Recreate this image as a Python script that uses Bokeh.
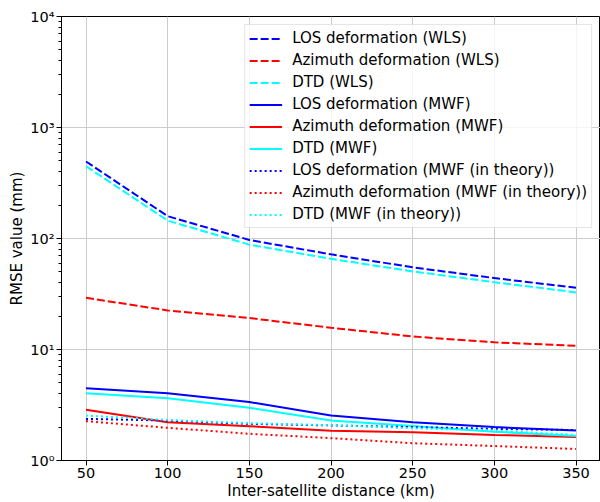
from bokeh.plotting import figure
from bokeh.models import Range1d, LogTicker, FixedTicker
from bokeh.embed import file_html
from bokeh.resources import INLINE

# Inter-satellite distance (km)
distance = [50, 100, 150, 200, 250, 300, 350]

# RMSE (mm), weighted least squares
los_wls = [494, 159, 97, 72, 55, 44, 36]
az_wls = [29.2, 22.5, 19.2, 15.7, 13.1, 11.6, 10.8]
dtd_wls = [448, 145, 88, 65.6, 50.5, 40.4, 32.7]

# RMSE (mm), MWF estimate
los_mwf = [4.48, 4.04, 3.36, 2.54, 2.21, 2.00, 1.86]
az_mwf = [2.86, 2.21, 2.04, 1.85, 1.80, 1.70, 1.63]
dtd_mwf = [4.04, 3.64, 2.99, 2.29, 2.05, 1.82, 1.66]

# RMSE (mm), MWF theoretical
los_theory = [2.37, 2.29, 2.14, 2.07, 2.00, 1.93, 1.88]
az_theory = [2.26, 1.97, 1.74, 1.59, 1.43, 1.35, 1.27]
dtd_theory = [2.54, 2.32, 2.17, 2.08, 1.95, 1.86, 1.70]

x_ticks = [50, 100, 150, 200, 250, 300, 350]
y_tick_labels = {1: "10⁰", 10: "10¹", 100: "10²", 1000: "10³", 10000: "10⁴"}

FONT = "DejaVu Sans"

p = figure(
    width=600, height=502,
    y_axis_type="log",
    x_range=Range1d(35, 365), y_range=Range1d(1, 10000),
    output_backend="svg", toolbar_location=None,
    min_border_left=61, min_border_right=0, min_border_top=16, min_border_bottom=41,
    background_fill_color="white", border_fill_color="white",
)

p.outline_line_color = "black"
p.outline_line_width = 1

# axes
p.xaxis.ticker = FixedTicker(ticks=x_ticks)
p.yaxis.ticker = LogTicker(num_minor_ticks=10)
p.yaxis.major_label_overrides = y_tick_labels
for ax in (p.xaxis[0], p.yaxis[0]):
    ax.major_label_text_font = FONT
    ax.major_label_text_font_size = "14.5px"
    ax.major_label_text_color = "black"
    ax.axis_label_text_font = FONT
    ax.axis_label_text_font_size = "15px"
    ax.axis_label_text_font_style = "normal"
    ax.axis_label_text_color = "black"
    ax.major_tick_in = 0
    ax.major_tick_out = 5
    ax.minor_tick_in = 0
    ax.minor_tick_out = 3
    ax.axis_line_color = "black"
    ax.major_label_standoff = 2
    ax.axis_label_standoff = 1
p.xaxis.minor_tick_line_color = None
p.xaxis.axis_label = "Inter-satellite distance (km)"
p.yaxis.axis_label = "RMSE value (mm)"

p.xgrid.grid_line_color = "#cccccc"
p.ygrid.grid_line_color = "#cccccc"
p.xgrid.ticker = FixedTicker(ticks=x_ticks)

DASH = "8 3"
DOT = "2 3"
LW = 2

series = [
    (los_wls, "blue", DASH, "LOS deformation (WLS)"),
    (az_wls, "red", DASH, "Azimuth deformation (WLS)"),
    (dtd_wls, "cyan", DASH, "DTD (WLS)"),
    (los_mwf, "blue", "solid", "LOS deformation (MWF)"),
    (az_mwf, "red", "solid", "Azimuth deformation (MWF)"),
    (dtd_mwf, "cyan", "solid", "DTD (MWF)"),
    (los_theory, "blue", DOT, "LOS deformation (MWF (in theory))"),
    (az_theory, "red", DOT, "Azimuth deformation (MWF (in theory))"),
    (dtd_theory, "cyan", DOT, "DTD (MWF (in theory))"),
]
for ys, color, dash, label in series:
    p.line(distance, ys, line_color=color, line_width=LW, line_dash=dash, legend_label=label)

lg = p.legend[0]
lg.location = "top_right"
lg.margin = 8
lg.padding = 4
lg.spacing = 4
lg.label_height = 17
lg.glyph_height = 17
lg.glyph_width = 33
lg.label_standoff = 10
lg.label_text_font = FONT
lg.label_text_font_size = "15px"
lg.label_text_color = "black"
lg.border_line_color = "#cccccc"
lg.border_line_width = 1
lg.background_fill_color = "white"
lg.background_fill_alpha = 0.8

open("out.html", "w").write(file_html(p, INLINE))
